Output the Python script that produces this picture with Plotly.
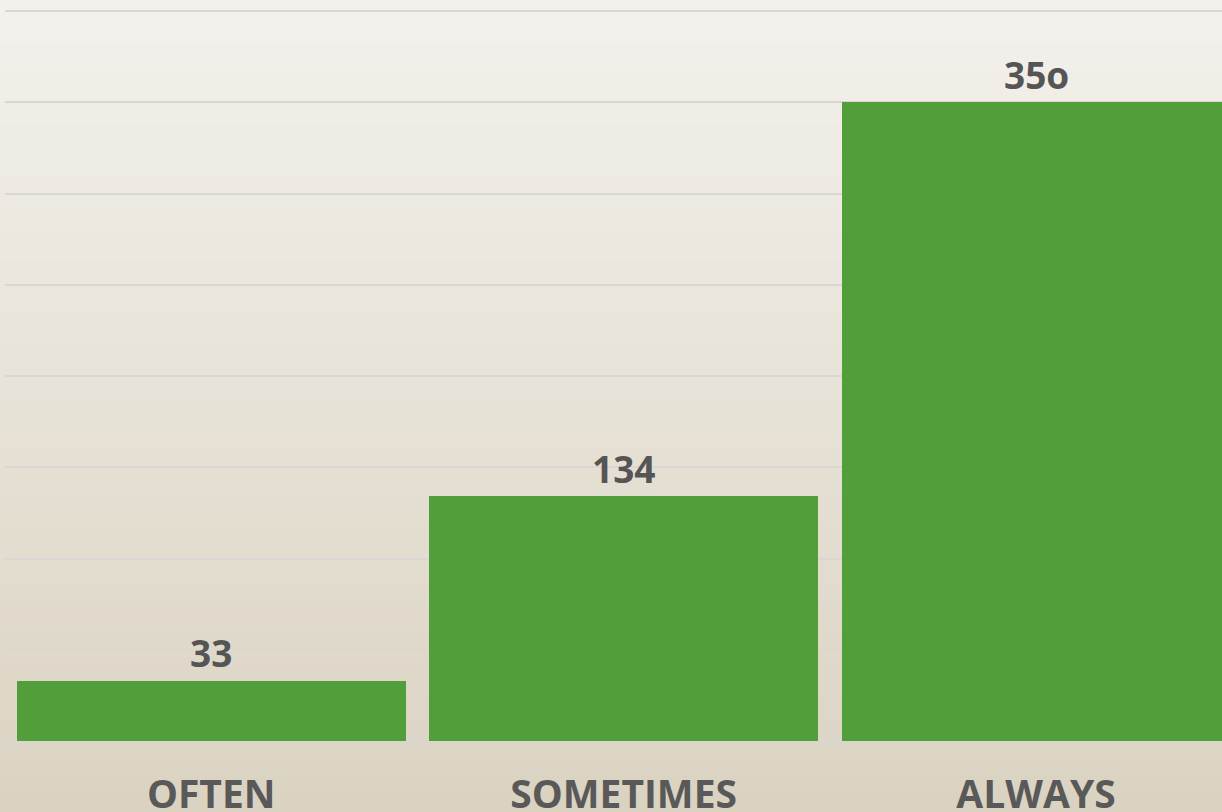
import plotly.graph_objects as go

categories = ["OFTEN", "SOMETIMES", "ALWAYS"]
values = [33, 134, 350]
value_labels = ["33", "134", "35o"]
y_ticks = [0, 50, 100, 150, 200, 250, 300, 350, 400]

W, H = 1222, 812

def lerp(c1, c2, t):
    return tuple(round(a + (b - a) * t) for a, b in zip(c1, c2))

top_c = (243, 241, 236)
bot_c = (219, 211, 194)
margin = dict(l=5, r=0, t=10, b=71)
ph = H - margin["t"] - margin["b"]
pw = W - margin["l"] - margin["r"]

shapes = []
n = 90
for i in range(n):
    t = i / (n - 1)
    r, g, b = lerp(top_c, bot_c, t)
    y1f = 1 - i / n + 0.002
    y0f = 1 - (i + 1) / n - 0.002
    shapes.append(dict(type="rect", xref="paper", yref="paper", layer="below",
                       x0=(-10 - margin["l"]) / pw, x1=(W + 10 - margin["l"]) / pw,
                       y0=(y0f * H - margin["b"]) / ph, y1=(y1f * H - margin["b"]) / ph,
                       fillcolor=f"rgb({r},{g},{b})", line=dict(width=0)))

fig = go.Figure()
fig.add_trace(go.Bar(
    x=categories, y=values, marker=dict(color="#529e3a", line=dict(width=0)),
    width=0.943, hoverinfo="skip",
))

annotations = []
for c, v, lbl in zip(categories, values, value_labels):
    annotations.append(dict(x=c, y=v, xref="x", yref="y", text=lbl, showarrow=False,
                            yanchor="middle", yshift=28,
                            font=dict(family="Open Sans", size=37, color="#555555", weight="bold")))

fig.update_layout(
    width=W, height=H, margin=margin,
    paper_bgcolor="#e8e4da", plot_bgcolor="rgba(0,0,0,0)",
    shapes=shapes, annotations=annotations, showlegend=False,
    bargap=0,
    xaxis=dict(range=[-0.5, 2.451], showgrid=False, showline=False, zeroline=False,
               ticks="", ticklabelstandoff=27, automargin=False,
               tickfont=dict(family="Open Sans", size=39, color="#595959", weight="bold")),
    yaxis=dict(range=[0, 400.6], tickvals=y_ticks, showticklabels=False, automargin=False,
               showgrid=True, gridcolor="#d8d7d4", gridwidth=2,
               zeroline=True, zerolinecolor="#d8d7d4", zerolinewidth=2, showline=False),
)

fig.write_html("out.html", config={"displayModeBar": False},
               post_script="document.body.style.margin='0';document.body.style.overflow='hidden';")
